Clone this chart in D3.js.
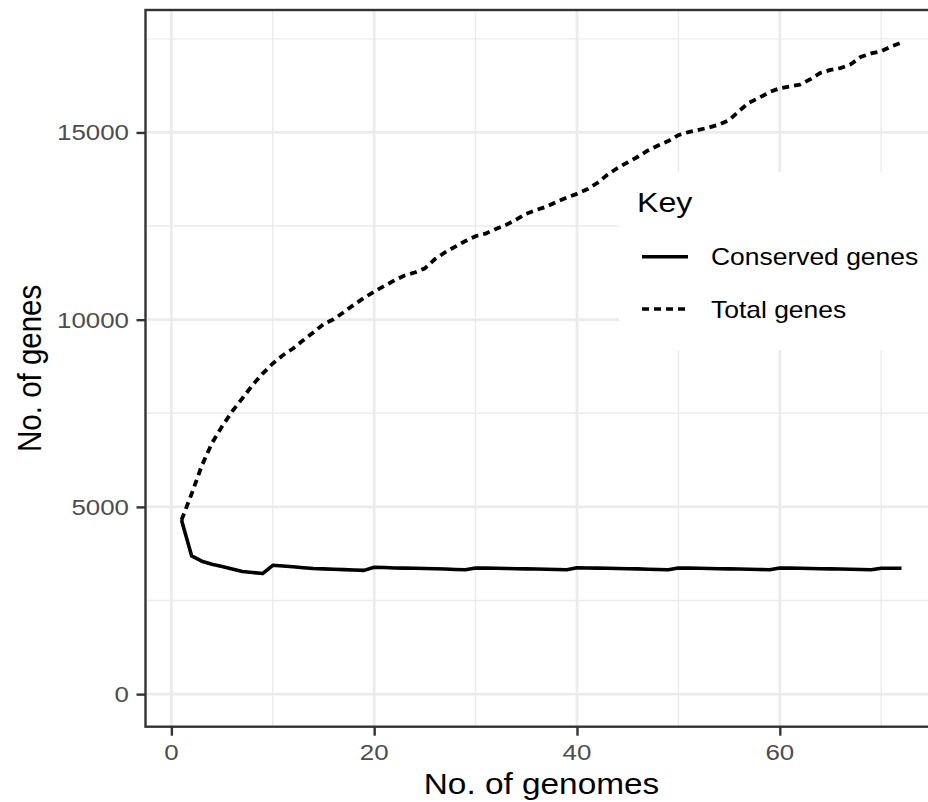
<!DOCTYPE html>
<html>
<head>
<meta charset="utf-8">
<script src="https://cdn.jsdelivr.net/npm/d3@7"></script>
<style>
  html, body { margin: 0; padding: 0; background: #fff; }
  svg { display: block; font-family: "Liberation Sans", Arial, Helvetica, sans-serif; }
</style>
</head>
<body>
<svg id="chart" width="928" height="802"></svg>
<script>
// ---- data ----
const genomes = d3.range(1, 73);
const conservedGenes = [
  4650, 3690, 3550, 3470, 3410, 3340, 3275, 3250, 3220, 3440,
  3420, 3400, 3375, 3355, 3345, 3335, 3325, 3315, 3305, 3390,
  3380, 3370, 3365, 3360, 3355, 3350, 3340, 3330, 3320, 3370,
  3365, 3360, 3355, 3350, 3345, 3340, 3335, 3330, 3320, 3375,
  3370, 3365, 3360, 3355, 3350, 3345, 3335, 3330, 3320, 3370,
  3365, 3360, 3355, 3350, 3345, 3340, 3335, 3330, 3320, 3370,
  3365, 3360, 3355, 3350, 3345, 3340, 3335, 3330, 3320, 3360,
  3360, 3360
];
const totalGenes = [
  4650, 5350, 6100, 6700, 7150, 7550, 7900, 8250, 8560, 8830,
  9050, 9230, 9450, 9660, 9880, 10010, 10200, 10400, 10580, 10750,
  10900, 11050, 11180, 11260, 11370, 11620, 11800, 11950, 12100, 12230,
  12300, 12420, 12530, 12670, 12830, 12930, 13020, 13150, 13260, 13360,
  13480, 13650, 13870, 14050, 14200, 14350, 14520, 14650, 14770, 14930,
  15010, 15070, 15130, 15210, 15330, 15580, 15800, 15930, 16080, 16180,
  16230, 16280, 16420, 16590, 16670, 16720, 16820, 17020, 17110, 17170,
  17300, 17400
];
const xTicks = [0, 20, 40, 60];
const xMinor = [10, 30, 50, 70];
const yTicks = [0, 5000, 10000, 15000];
const yMinor = [2500, 7500, 12500, 17500];
const seriesNames = ["Conserved genes", "Total genes"];
const legendTitle = "Key";
const xTitle = "No. of genomes";
const yTitle = "No. of genes";

// ---- layout ----
const SX = 1.15; // horizontal stretch of the reference text
const svg = d3.select("#chart");
const x = d3.scaleLinear().domain([-2.55, 75.55]).range([145.5, 937.5]);
const y = d3.scaleLinear().domain([-870, 18270]).range([726.7, 10]);
const [pl, pr] = x.range();
const [pb, pt] = y.range();

// panel background
svg.append("rect").attr("x", pl).attr("y", pt).attr("width", pr - pl).attr("height", pb - pt).attr("fill", "#fff");

// grid
const grid = svg.append("g");
grid.selectAll(".vminor").data(xMinor).join("line")
  .attr("x1", d => x(d)).attr("x2", d => x(d)).attr("y1", pt).attr("y2", pb)
  .attr("stroke", "#ebebeb").attr("stroke-width", 1.4);
grid.selectAll(".hminor").data(yMinor).join("line")
  .attr("y1", d => y(d)).attr("y2", d => y(d)).attr("x1", pl).attr("x2", pr)
  .attr("stroke", "#ebebeb").attr("stroke-width", 1.4);
grid.selectAll(".vmajor").data(xTicks).join("line")
  .attr("x1", d => x(d)).attr("x2", d => x(d)).attr("y1", pt).attr("y2", pb)
  .attr("stroke", "#ebebeb").attr("stroke-width", 2.7);
grid.selectAll(".hmajor").data(yTicks).join("line")
  .attr("y1", d => y(d)).attr("y2", d => y(d)).attr("x1", pl).attr("x2", pr)
  .attr("stroke", "#ebebeb").attr("stroke-width", 2.7);

// lines
const line = (vals) => d3.line().x((d, i) => x(genomes[i])).y(d => y(d))(vals);
svg.append("path").attr("d", line(totalGenes))
  .attr("fill", "none").attr("stroke", "#000").attr("stroke-width", 3.8)
  .attr("stroke-dasharray", "7,5").attr("stroke-linejoin", "round");
svg.append("path").attr("d", line(conservedGenes))
  .attr("fill", "none").attr("stroke", "#000").attr("stroke-width", 3.6)
  .attr("stroke-linejoin", "round");

// panel border
svg.append("rect").attr("x", pl).attr("y", pt).attr("width", pr - pl).attr("height", pb - pt)
  .attr("fill", "none").attr("stroke", "#333").attr("stroke-width", 2.4);

// axes (ticks)
const xAxis = svg.append("g").attr("transform", `translate(0,${pb})`)
  .call(d3.axisBottom(x).tickValues(xTicks).tickSize(9).tickFormat(""));
const yAxis = svg.append("g").attr("transform", `translate(${pl},0)`)
  .call(d3.axisLeft(y).tickValues(yTicks).tickSize(9).tickFormat(""));
[xAxis, yAxis].forEach(a => {
  a.select(".domain").remove();
  a.selectAll(".tick line").attr("stroke", "#333").attr("stroke-width", 2.4);
});

// tick labels
svg.append("g").selectAll("text").data(xTicks).join("text")
  .attr("transform", d => `translate(${x(d)},760) scale(${SX},1)`)
  .attr("text-anchor", "middle").attr("font-size", 22.5).attr("fill", "#4d4d4d")
  .text(d => d);
svg.append("g").selectAll("text").data(yTicks).join("text")
  .attr("transform", d => `translate(129,${y(d) + 8}) scale(${SX},1)`)
  .attr("text-anchor", "end").attr("font-size", 22.5).attr("fill", "#4d4d4d")
  .text(d => d);

// axis titles
svg.append("text").attr("transform", `translate(541.5,794) scale(${SX},1)`)
  .attr("text-anchor", "middle").attr("font-size", 29).attr("fill", "#000").text(xTitle);
svg.append("text").attr("transform", `translate(41,${(pt + pb) / 2}) scale(${SX},1) rotate(-90)`)
  .attr("text-anchor", "middle").attr("font-size", 29.5).attr("fill", "#000").text(yTitle);

// legend
const lg = svg.append("g");
lg.append("rect").attr("x", 619).attr("y", 172).attr("width", 330).attr("height", 178).attr("fill", "#fff");
lg.append("text").attr("transform", `translate(637,212) scale(${SX},1)`)
  .attr("font-size", 28).attr("fill", "#000").text(legendTitle);
const keyY = [256.7, 309];
const dashes = [null, "7,5"];
seriesNames.forEach((name, i) => {
  lg.append("line").attr("x1", 642).attr("x2", 688).attr("y1", keyY[i]).attr("y2", keyY[i])
    .attr("stroke", "#000").attr("stroke-width", 3.6)
    .attr("stroke-dasharray", dashes[i]);
  lg.append("text").attr("transform", `translate(711,${keyY[i] + 8.5}) scale(${SX},1)`)
    .attr("font-size", 23).attr("fill", "#000").text(name);
});
</script>
</body>
</html>
